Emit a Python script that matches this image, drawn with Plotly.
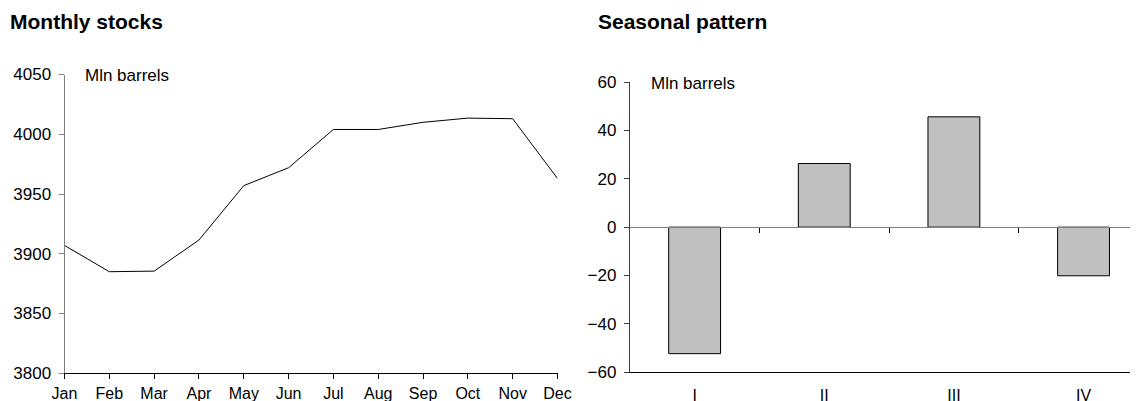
import plotly.graph_objects as go

months = ["Jan", "Feb", "Mar", "Apr", "May", "Jun", "Jul", "Aug", "Sep", "Oct", "Nov", "Dec"]
stocks = [3907, 3885, 3885.5, 3911.5, 3957, 3972, 4004, 4004, 4010, 4013.5, 4013, 3963]

quarters = ["I", "II", "III", "IV"]
seasonal = [-52.3, 26.3, 45.6, -20.1]

# page body has an 8px margin: size the figure so it fills the rest of the window
OFF = 8
W, H = 1138 - OFF, 401 - OFF
FONT = "Liberation Sans, Arial, sans-serif"

def px_x(p):
    return (p - OFF) / W

def px_y(p):
    return 1 - (p - OFF) / H

fig = go.Figure()

fig.add_trace(go.Scatter(x=months, y=stocks, mode="lines",
                         line=dict(color="black", width=1),
                         xaxis="x", yaxis="y", showlegend=False, hoverinfo="x+y"))

fig.add_trace(go.Bar(x=quarters, y=seasonal, width=0.4,
                     marker=dict(color="#c0c0c0", line=dict(color="black", width=1)),
                     xaxis="x2", yaxis="y2", showlegend=False))

# invisible trace to hold the zero-line axis
fig.add_trace(go.Scatter(x=[], y=[], xaxis="x3", yaxis="y2", showlegend=False, hoverinfo="skip"))

tickfont = dict(family=FONT, size=17, color="black")
xtickfont = dict(family=FONT, size=16, color="black")

left_dom_y = [px_y(373.3), px_y(74.5)]
right_dom_y = [px_y(372.3), px_y(82)]
zero_pos = px_y(227)

fig.update_layout(
    width=W, height=H,
    margin=dict(l=0, r=0, t=0, b=0),
    paper_bgcolor="white", plot_bgcolor="white",
    font=dict(family=FONT, color="black"),
    xaxis=dict(domain=[px_x(64.5), px_x(557.5)], type="category", range=[0, 11],
               showline=True, linecolor="black", linewidth=1,
               ticks="outside", ticklen=5, tickcolor="black",
               showgrid=False, zeroline=False, tickfont=xtickfont,
               anchor="y", automargin=False, ticklabelstandoff=0),
    yaxis=dict(domain=left_dom_y, range=[3800, 4050], tickvals=[3800, 3850, 3900, 3950, 4000, 4050],
               showline=True, linecolor="#808080", linewidth=1,
               ticks="outside", ticklen=5, tickcolor="#808080",
               showgrid=False, zeroline=False, tickfont=tickfont,
               anchor="x", automargin=False, ticklabelstandoff=4),
    xaxis2=dict(domain=[px_x(629.8), 1], type="category", range=[-0.5, 3.42],
                showline=True, linecolor="black", linewidth=1,
                ticks="", showgrid=False, zeroline=False, tickfont=xtickfont,
                anchor="y2", automargin=False, ticklabelstandoff=8),
    xaxis3=dict(domain=[px_x(629.8), 1], type="linear", range=[-0.5, 3.42],
                overlaying="x2", anchor="free", position=zero_pos,
                showline=True, linecolor="#808080", linewidth=1,
                ticks="outside", ticklen=5, tickcolor="black",
                tickvals=[0.5, 1.5, 2.5], showticklabels=False,
                showgrid=False, zeroline=False, automargin=False),
    yaxis2=dict(domain=right_dom_y, range=[-60, 60], tickvals=[-60, -40, -20, 0, 20, 40, 60],
                showline=True, linecolor="#404040", linewidth=1,
                ticks="outside", ticklen=5, tickcolor="#404040",
                showgrid=False, zeroline=False, tickfont=tickfont,
                anchor="x2", automargin=False, ticklabelstandoff=4),
    annotations=[
        dict(text="<b>Monthly stocks</b>", x=px_x(8), y=px_y(22), xref="paper", yref="paper",
             xanchor="left", yanchor="middle", showarrow=False,
             font=dict(family=FONT, size=21, color="black")),
        dict(text="<b>Seasonal pattern</b>", x=px_x(596), y=px_y(22), xref="paper", yref="paper",
             xanchor="left", yanchor="middle", showarrow=False,
             font=dict(family=FONT, size=21, color="black")),
        dict(text="Mln barrels", x=px_x(83), y=px_y(75), xref="paper", yref="paper",
             xanchor="left", yanchor="middle", showarrow=False,
             font=dict(family=FONT, size=17, color="black")),
        dict(text="Mln barrels", x=px_x(649), y=px_y(83), xref="paper", yref="paper",
             xanchor="left", yanchor="middle", showarrow=False,
             font=dict(family=FONT, size=17, color="black")),
    ],
)

fig.write_html("out.html")
